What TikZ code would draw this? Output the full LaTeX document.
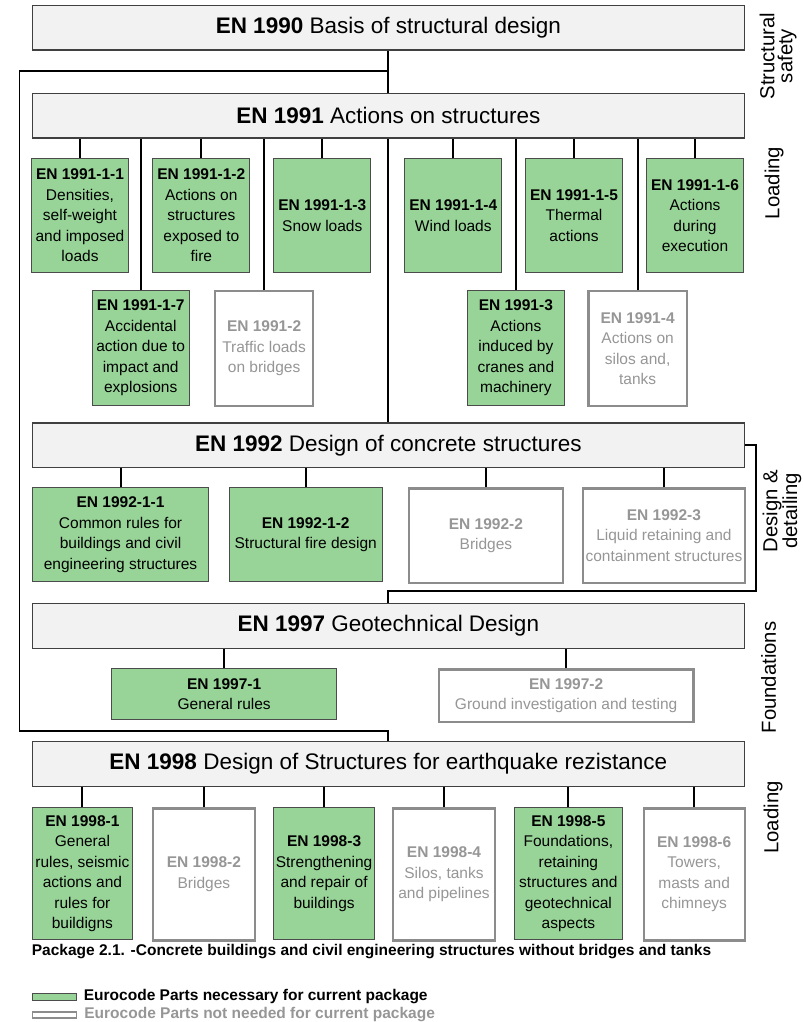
\documentclass[tikz,border=0pt]{standalone}
\usepackage{fontspec}
\setmainfont{Liberation Sans}
\usetikzlibrary{positioning, calc}
\definecolor{needgreen}{RGB}{152,212,152}
\definecolor{mainfill}{RGB}{242,242,242}
\definecolor{skipgray}{RGB}{140,140,140}
\definecolor{skiptext}{RGB}{150,150,150}

\begin{document}
\begin{tikzpicture}[x=1pt, y=-1pt,
    mainbox/.style={draw=black!75, fill=mainfill, line width=1.3pt, anchor=north west,
        minimum width=712pt, minimum height=44.5pt, inner sep=0pt, font=\fontsize{22.5}{26}\selectfont},
    partbox/.style={anchor=north west, align=center, inner sep=1pt, font=\fontsize{15.5}{20.5}\selectfont},
    needbox/.style={partbox, draw=black!70, fill=needgreen, line width=1pt},
    skipbox/.style={partbox, draw=skipgray, fill=white, line width=2.2pt, text=skiptext},
    sz/.style 2 args={minimum width=#1, minimum height=#2},
    link/.style={line width=1.9pt},
    sidelabel/.style={rotate=90, align=center, font=\fontsize{20.3}{18}\selectfont},
    keytext/.style={anchor=west, inner sep=0pt, font=\bfseries\fontsize{15.5}{18}\selectfont}]
    \useasboundingbox (0,0) rectangle (803,1022);

    % main parts
    \node[mainbox] (en1990) at (31.7,5) {\textbf{EN 1990} Basis of structural design};
    \node[mainbox] (en1991) at (31.7,92.7) {\textbf{EN 1991} Actions on structures};
    \node[mainbox] (en1992) at (31.7,422.3) {\textbf{EN 1992} Design of concrete structures};
    \node[mainbox] (en1997) at (31.7,603) {\textbf{EN 1997} Geotechnical Design};
    \node[mainbox] (en1998) at (31.7,741) {\textbf{EN 1998} Design of Structures for earthquake rezistance};

    % EN 1991
    \node[needbox, sz={97}{114.6}] (a11) at (31,157.7) {\textbf{EN 1991-1-1}\\Densities,\\self-weight\\and imposed\\loads};
    \node[needbox, sz={97}{114.6}] (a12) at (152.3,157.7) {\textbf{EN 1991-1-2}\\Actions on\\structures\\exposed to\\fire};
    \node[needbox, sz={97}{114.6}] (a13) at (273.3,157.7) {\textbf{EN 1991-1-3}\\Snow loads};
    \node[needbox, sz={97}{114.6}] (a14) at (404.3,157.7) {\textbf{EN 1991-1-4}\\Wind loads};
    \node[needbox, sz={97}{114.6}] (a15) at (525,157.7) {\textbf{EN 1991-1-5}\\Thermal\\actions};
    \node[needbox, sz={97}{114.6}] (a16) at (646,157.7) {\textbf{EN 1991-1-6}\\Actions\\during\\execution};
    \node[needbox, sz={97}{115}] (a17) at (91.7,290) {\textbf{EN 1991-1-7}\\Accidental\\action due to\\impact and\\explosions};
    \node[skipbox, sz={98}{115}] (a2) at (214,290) {\textbf{EN 1991-2}\\Traffic loads\\on bridges};
    \node[needbox, sz={96.7}{115}] (a3) at (467,290) {\textbf{EN 1991-3}\\Actions\\induced by\\cranes and\\machinery};
    \node[skipbox, sz={98.4}{115}] (a4) at (587.3,290) {\textbf{EN 1991-4}\\Actions on\\silos and,\\tanks};

    % EN 1992
    \node[needbox, sz={176.7}{93.7}] (b11) at (31.7,487.3) {\textbf{EN 1992-1-1}\\Common rules for\\buildings and civil\\engineering structures};
    \node[needbox, sz={152.6}{93.7}] (b12) at (228.9,487.3) {\textbf{EN 1992-1-2}\\Structural fire design};
    \node[skipbox, sz={153.7}{94.5}] (b2) at (408,487.3) {\textbf{EN 1992-2}\\Bridges};
    \node[skipbox, sz={161.3}{94.5}] (b3) at (582.2,487.3) {\textbf{EN 1992-3}\\Liquid retaining and\\containment structures};

    % EN 1997
    \node[needbox, sz={225.4}{51}] (c1) at (111,668.3) {\textbf{EN 1997-1}\\General rules};
    \node[skipbox, sz={254.5}{52.4}] (c2) at (437.8,668.3) {\textbf{EN 1997-2}\\Ground investigation and testing};

    % EN 1998
    \node[needbox, sz={100.4}{132}] (d1) at (31.7,807.3) {\textbf{EN 1998-1}\\General\\rules, seismic\\actions and\\rules for\\buildigns};
    \node[skipbox, sz={101.4}{132}] (d2) at (152.1,807.3) {\textbf{EN 1998-2}\\Bridges};
    \node[needbox, sz={100.4}{132}] (d3) at (273.4,807.3) {\textbf{EN 1998-3}\\Strengthening\\and repair of\\buildings};
    \node[skipbox, sz={102.4}{132}] (d4) at (391.7,807.3) {\textbf{EN 1998-4}\\Silos, tanks\\and pipelines};
    \node[needbox, sz={108.5}{132}] (d5) at (513.6,807.3) {\textbf{EN 1998-5}\\Foundations,\\retaining\\structures and\\geotechnical\\aspects};
    \node[skipbox, sz={100.9}{132}] (d6) at (642.6,807.3) {\textbf{EN 1998-6}\\Towers,\\masts and\\chimneys};

    % connectors
    \foreach \c in {a11,a12,a13,a14,a15,a16,a17,a2,a3,a4}
        \draw[link] (\c.north) -- (\c.north |- en1991.south);
    \foreach \c in {b11,b12,b2,b3}
        \draw[link] (\c.north) -- (\c.north |- en1992.south);
    \foreach \c in {c1,c2}
        \draw[link] (\c.north) -- (\c.north |- en1997.south);
    \foreach \c in {d1,d2,d3,d4,d5,d6}
        \draw[link] (\c.north) -- (\c.north |- en1998.south);

    \coordinate (lefttop) at (19.5,70.7);
    \coordinate (leftbot) at (19.5,730.7);
    \coordinate (rightbot) at (755.7,590.7);
    \draw[link] (en1990.south) -- (en1991.north);
    \draw[link] (en1991.south) -- (en1992.north);
    \draw[link] (en1990.south |- lefttop) -- (lefttop) -- (leftbot) -- (leftbot -| en1998.north) -- (en1998.north);
    \draw[link] (en1992.east) -- (en1992.east -| rightbot) -- (rightbot) -- (rightbot -| en1997.north) -- (en1997.north);

    % side labels
    \node[sidelabel] (safety) at (778,56) {Structural\\safety};
    \node[sidelabel] (loadtop) at (774,183) {Loading};
    \node[sidelabel] (detail) at (782,511) {Design \&\\detailing};
    \node[sidelabel] (found) at (768.5,677.5) {Foundations};
    \node[sidelabel] (loadbot) at (773,817.5) {Loading};

    % caption and key
    \node[keytext] (caption) at (31.7,951.7) {Package 2.1. -Concrete buildings and civil engineering structures without bridges and tanks};
    \node[needbox, anchor=west, sz={44}{6.5}, inner sep=0pt] (keyneed) at (31.7,997) {};
    \node[skipbox, anchor=west, sz={44}{6}, inner sep=0pt, line width=1.5pt] (keyskip) at (31.7,1015) {};
    \node[keytext, right=7pt of keyneed] (keyneedtxt) {Eurocode Parts necessary for current package};
    \node[keytext, right=7pt of keyskip, text=skiptext] (keyskiptxt) {Eurocode Parts not needed for current package};
\end{tikzpicture}
\end{document}
